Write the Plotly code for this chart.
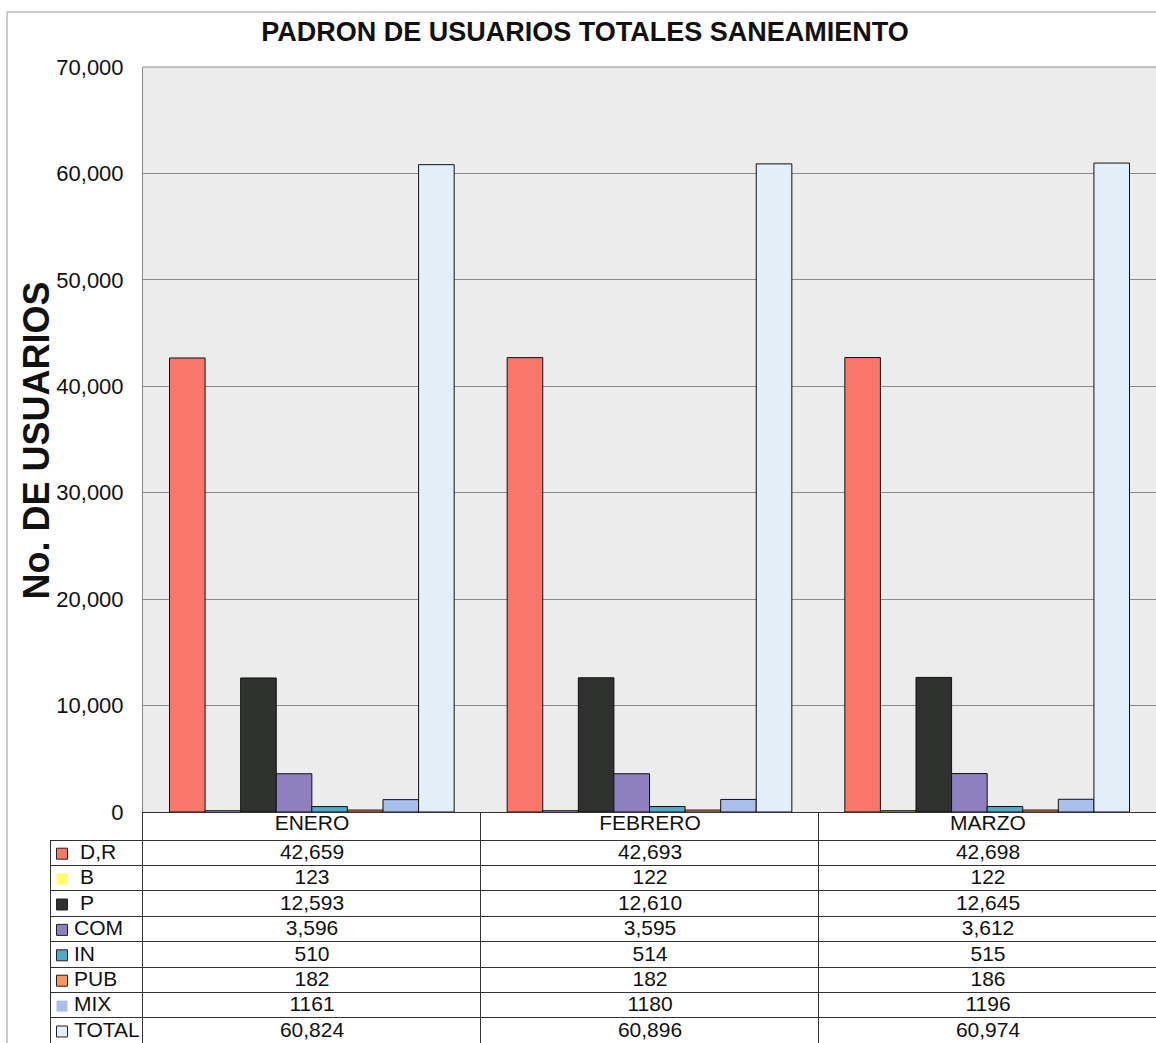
import plotly.graph_objects as go

meses = ['ENERO', 'FEBRERO', 'MARZO']
series = ['D,R', 'B', 'P', 'COM', 'IN', 'PUB', 'MIX', 'TOTAL']

dr = [42659, 42693, 42698]
b = [123, 122, 122]
p = [12593, 12610, 12645]
com = [3596, 3595, 3612]
ind = [510, 514, 515]
pub = [182, 182, 186]
mix = [1161, 1180, 1196]
total = [60824, 60896, 60974]

valores = [dr, b, p, com, ind, pub, mix, total]
colores = ['#F9766A', '#FFFF66', '#2E312E', '#8E7FC0', '#4FA9C7',
           '#F79657', '#A9BEEA', '#E2EFF9']
bordes = ['#222222', 'rgba(0,0,0,0)', '#222222', '#222222', '#222222',
          '#222222', 'rgba(0,0,0,0)', '#222222']

W, H = 1156, 1043
fuente = 'Arial, Liberation Sans, sans-serif'
txt = '#111111'

# medidas de la tabla de datos (px)
anchos = [93, 338, 338, 338]
alto_enc = 28
alto_fila = 25.4
alto_tabla = 1043 - 812
sangria = [30, 30, 30, 24, 24, 24, 24, 24]  # inicio del nombre en la columna de leyenda


def px_x(x):
    return x / W


def px_y(y):
    return 1 - y / H


fig = go.Figure()

for nombre, vals, col in zip(series, valores, colores):
    fig.add_trace(go.Bar(
        x=meses, y=vals, name=nombre,
        marker=dict(color=col, line=dict(color='#111111', width=1)),
        showlegend=False
    ))

# rejilla de la tabla de datos
vacias = [[''] * len(series) for _ in anchos]
fig.add_trace(go.Table(
    domain=dict(x=[px_x(50), 1], y=[0, px_y(812)]),
    columnwidth=anchos,
    header=dict(values=[''] * len(anchos), height=alto_enc,
                fill_color='rgba(0,0,0,0)',
                line=dict(color=['rgba(0,0,0,0)', '#333333', '#333333', '#333333'], width=1)),
    cells=dict(values=vacias, height=alto_fila,
               fill_color='rgba(0,0,0,0)',
               line=dict(color='#333333', width=1))
))

# textos de la tabla sobre un eje auxiliar en px
centros_col = []
acum = 0
for a in anchos:
    centros_col.append(acum + a / 2)
    acum += a
centros_fila = [alto_enc + alto_fila * (i + 0.5) + 1 for i in range(len(series))]

fig.add_trace(go.Scatter(
    x=centros_col[1:], y=[alto_enc / 2 - 1] * len(meses), text=meses,
    mode='text', textposition='middle center', xaxis='x3', yaxis='y3',
    textfont=dict(family=fuente, size=21, color=txt),
    showlegend=False, hoverinfo='skip'
))

for j in range(len(meses)):
    textos = []
    for s, vals in zip(series, valores):
        v = vals[j]
        textos.append(str(v) if s == 'MIX' else f'{v:,}')
    fig.add_trace(go.Scatter(
        x=[centros_col[j + 1]] * len(series), y=centros_fila, text=textos,
        mode='text', textposition='middle center', xaxis='x3', yaxis='y3',
        textfont=dict(family=fuente, size=21, color=txt),
        showlegend=False, hoverinfo='skip'
    ))

# cuadritos de color y nombres de la serie (columna de leyenda)
fig.add_trace(go.Scatter(
    x=[12] * len(series), y=centros_fila,
    mode='markers', xaxis='x3', yaxis='y3', showlegend=False, hoverinfo='skip',
    marker=dict(symbol='square', size=11, color=colores,
                line=dict(color=bordes, width=1))
))
fig.add_trace(go.Scatter(
    x=sangria, y=centros_fila, text=series,
    mode='text', textposition='middle right', xaxis='x3', yaxis='y3',
    textfont=dict(family=fuente, size=21, color=txt),
    showlegend=False, hoverinfo='skip'
))

fig.update_layout(
    width=W, height=H,
    margin=dict(l=0, r=0, t=0, b=0, autoexpand=False),
    paper_bgcolor='white',
    plot_bgcolor='rgba(0,0,0,0)',
    font=dict(family=fuente, color=txt),
    title=dict(text='<b>PADRON DE USUARIOS TOTALES SANEAMIENTO</b>',
               x=px_x(585), xanchor='center', y=px_y(32), yanchor='middle',
               font=dict(size=27, color=txt)),
    bargap=0.157,
    bargroupgap=0,
    xaxis=dict(domain=[px_x(143), 1], showticklabels=False, showline=False,
               showgrid=False, zeroline=False, automargin=False),
    yaxis=dict(domain=[px_y(812), px_y(67)], range=[0, 70000],
               dtick=10000, tickformat=',', showgrid=True,
               gridcolor='#8A8A8A', gridwidth=1, automargin=False,
               showline=True, linecolor='#8A8A8A', mirror=False,
               zeroline=False, ticks='', ticklabelstandoff=14,
               tickfont=dict(size=22, color=txt)),
    xaxis3=dict(domain=[px_x(50), 1], range=[0, W - 50], visible=False,
                anchor='y3', fixedrange=True, automargin=False),
    yaxis3=dict(domain=[0, px_y(812)], range=[alto_tabla, 0], visible=False,
                anchor='x3', fixedrange=True, automargin=False),
    annotations=[dict(text='<b>No. DE USUARIOS</b>', textangle=-90,
                      xref='paper', yref='paper', x=px_x(36.5), y=px_y(441),
                      xanchor='center', yanchor='middle', showarrow=False,
                      font=dict(size=36, color=txt))],
    shapes=[dict(type='rect', xref='x domain', yref='y domain',
                 x0=0, x1=1, y0=0, y1=1, layer='below',
                 fillcolor='#ECECEC', line=dict(width=0)),
            dict(type='rect', xref='paper', yref='paper',
                 x0=px_x(7), x1=1.01, y0=-0.01, y1=px_y(12),
                 line=dict(color='#999999', width=1)),
            dict(type='line', xref='paper', yref='paper',
                 x0=px_x(143), x1=1, y0=px_y(67), y1=px_y(67),
                 line=dict(color='#8A8A8A', width=1))]
)

fig.write_html("out.html", config={'displayModeBar': False},
               post_script="var gd=document.getElementById('{plot_id}');"
                           "gd.style.position='fixed';gd.style.top='0px';gd.style.left='0px';"
                           "document.body.style.margin='0';"
                           "document.body.style.overflow='hidden';")
